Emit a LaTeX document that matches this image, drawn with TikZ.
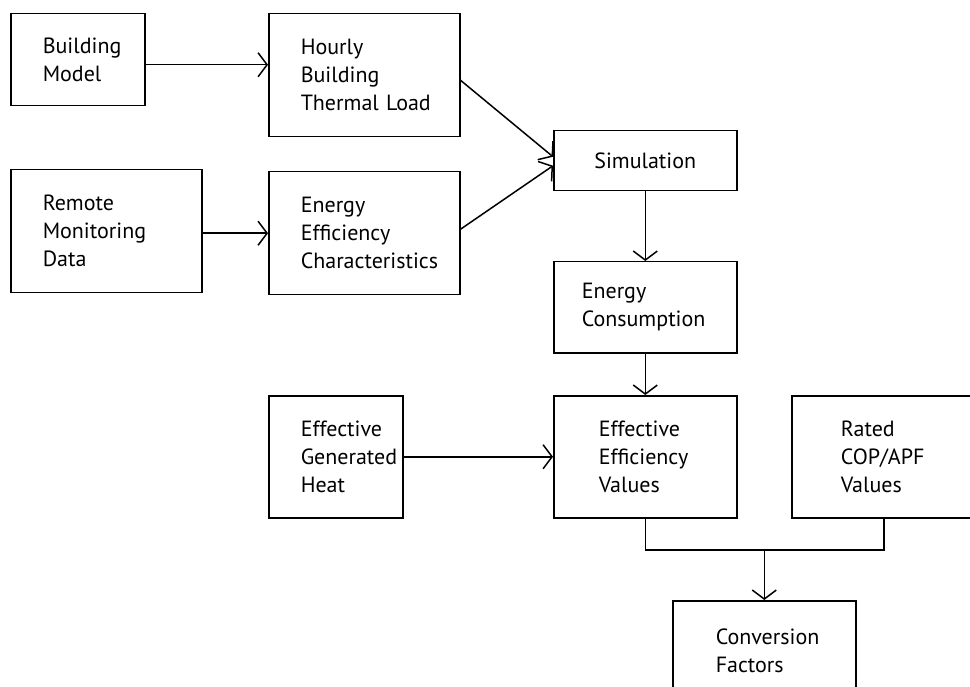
\documentclass[tikz,border=0pt]{standalone}
\usepackage{fontspec}
\setmainfont{PT Sans}
\usetikzlibrary{arrows.meta}
\newfontfamily\boxfont{PT Sans}

\tikzset{
box/.style={draw, line width=1.5pt, anchor=north west, align=left,
  inner ysep=0pt, font=\boxfont\fontsize{22pt}{28pt}\selectfont},
link/.style={line width=1.5pt, -{Straight Barb[length=9pt,width=24pt]}}
}

\begin{document}
\begin{tikzpicture}[x=1pt, y=-1pt]
%\draw[help lines] (0,0) grid (970,687);
\useasboundingbox (0,0) rectangle (970,687);

% inputs
\node[box, minimum height=92pt, text width=70pt, inner xsep=32pt] (model) at (10,13) {Building\\Model};
\node[box, minimum height=123pt, text width=127pt, inner xsep=32pt] (load) at (268,13) {Hourly\\Building\\Thermal~Load};
\node[box, minimum height=123pt, text width=127pt, inner xsep=32pt] (monitor) at (10,169) {Remote\\Monitoring\\Data};
\node[box, minimum height=123pt, text width=127pt, inner xsep=32pt] (charact) at (268,171) {Energy\\Efficiency\\Characteristics};

% middle column
\node[box, minimum height=60pt, text width=183pt, inner xsep=0pt, align=center] (sim) at (553,130) {Simulation};
\node[box, minimum height=91pt, text width=127pt, inner xsep=28pt] (consump) at (553,261) {Energy\\Consumption};
\node[box, minimum height=122pt, text width=70pt, inner xsep=32pt] (heat) at (268,395) {Effective\\Generated\\Heat};
\node[box, minimum height=122pt, text width=93pt, inner xsep=45pt] (effval) at (553,395) {Effective\\Efficiency\\Values};
\node[box, minimum height=122pt, text width=86pt, inner xsep=49pt] (rated) at (791,395) {Rated\\COP/APF\\Values};
\node[box, minimum height=100pt, text width=97pt, inner xsep=43pt] (factors) at (672,600) {Conversion\\Factors};

\coordinate (join) at (factors.north |- 0,550);

\draw[link] ([yshift=-5pt]model.east) -- ([yshift=-5pt]model.east -| load.west);
\draw[link] (monitor.east |- charact) -- (charact.west);
\draw[link] ([yshift=-5pt]load.east) -- ([yshift=4pt]sim.west);
\draw[link] ([yshift=4pt]charact.east) -- ([yshift=-5pt]sim.west);
\draw[link] (sim) -- (consump);
\draw[link] (consump) -- (effval);
\draw[link] (heat) -- (effval);
\draw[line width=1.5pt] (effval.south) |- (join) -| (rated.south);
\draw[link] (join) -- (factors);
\end{tikzpicture}
\end{document}
